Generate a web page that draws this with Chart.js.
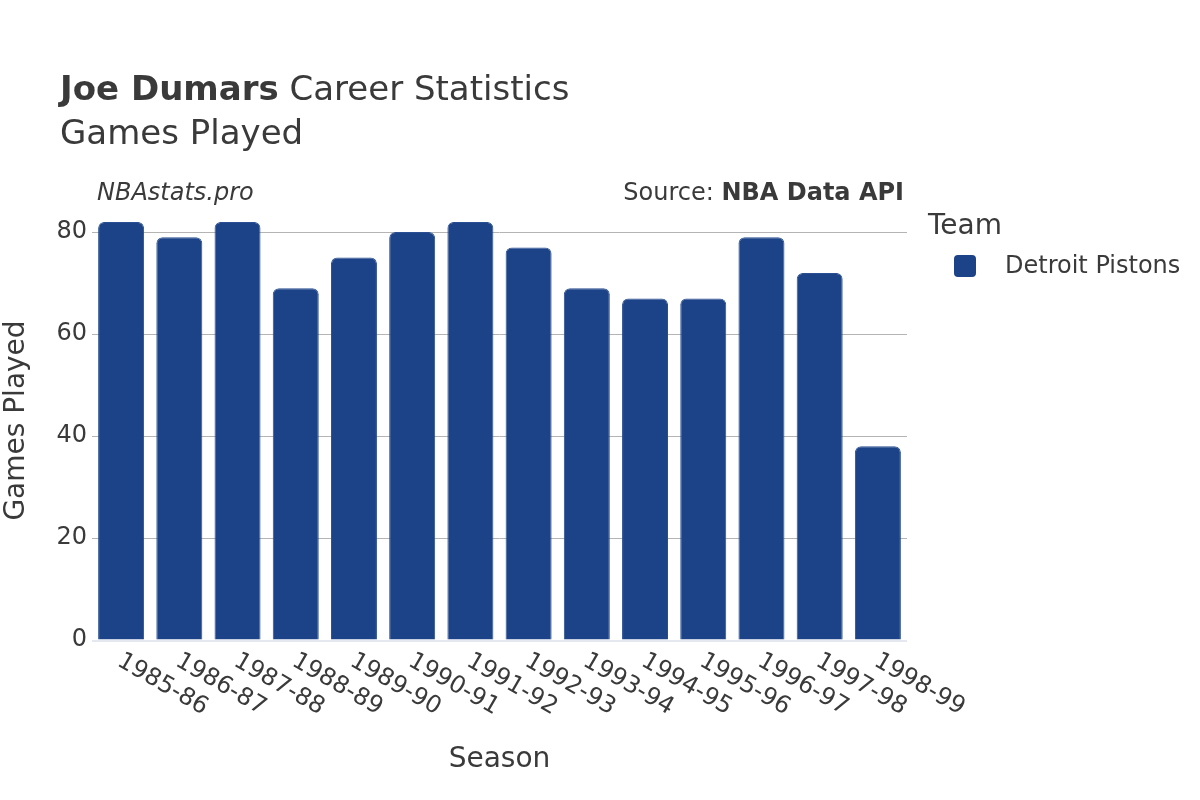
<!DOCTYPE html>
<html>
<head>
<meta charset="utf-8">
<script src="https://cdn.jsdelivr.net/npm/chart.js@4.4.0/dist/chart.umd.min.js"></script>
<style>
  html, body { margin: 0; padding: 0; background: #fff; }
  #wrap { width: 1200px; height: 800px; position: relative; }
</style>
</head>
<body>
<div id="wrap"><canvas id="chart" width="1200" height="800"></canvas></div>
<script>
const seasons = ['1985-86', '1986-87', '1987-88', '1988-89', '1989-90', '1990-91', '1991-92',
                 '1992-93', '1993-94', '1994-95', '1995-96', '1996-97', '1997-98', '1998-99'];
const gamesPlayed = [82, 79, 82, 69, 75, 80, 82, 77, 69, 67, 67, 79, 72, 38];
const yTicks = [0, 20, 40, 60, 80];
const teamName = 'Detroit Pistons';

const FONT = '"DejaVu Sans", sans-serif';
const TEXT = '#3a3a3a';
const BAR = '#1c4287';

// titles, source line, rotated season labels and legend
const decorations = {
    id: 'decorations',
    afterDraw(chart) {
        const ctx = chart.ctx;
        const area = chart.chartArea;
        const xs = chart.scales.x;
        ctx.save();
        ctx.fillStyle = TEXT;
        ctx.textBaseline = 'alphabetic';
        ctx.textAlign = 'left';

        ctx.font = 'bold 34px ' + FONT;
        ctx.fillText('Joe Dumars', 60, 100);
        const w = ctx.measureText('Joe Dumars').width;
        ctx.font = '34px ' + FONT;
        ctx.fillText(' Career Statistics', 60 + w, 100);
        ctx.fillText('Games Played', 60, 144);

        ctx.font = 'italic 24px ' + FONT;
        ctx.fillText('NBAstats.pro', 97, 200);

        ctx.textAlign = 'right';
        ctx.font = 'bold 24px ' + FONT;
        ctx.fillText('NBA Data API', 904, 200);
        const bw = ctx.measureText('NBA Data API').width;
        ctx.font = '24px ' + FONT;
        ctx.fillText('Source: ', 904 - bw, 200);

        // season labels
        ctx.textAlign = 'left';
        ctx.textBaseline = 'top';
        ctx.font = '24px ' + FONT;
        seasons.forEach((s, i) => {
            const x = xs.getPixelForTick(i);
            ctx.save();
            ctx.translate(x + 4, area.bottom + 9);
            ctx.rotate(Math.PI / 6);
            ctx.fillText(s, 0, 0);
            ctx.restore();
        });

        // axis titles
        ctx.textAlign = 'center';
        ctx.textBaseline = 'middle';
        ctx.font = '28px ' + FONT;
        ctx.fillText('Season', (area.left + area.right) / 2, 760);
        ctx.save();
        ctx.translate(17, (area.top + area.bottom) / 2);
        ctx.rotate(-Math.PI / 2);
        ctx.fillText('Games Played', 0, 0);
        ctx.restore();

        // legend
        ctx.textAlign = 'left';
        ctx.font = '28px ' + FONT;
        ctx.fillText('Team', 928, 227);
        ctx.fillStyle = BAR;
        ctx.beginPath();
        ctx.roundRect(954, 255, 22, 22, 4);
        ctx.fill();
        ctx.fillStyle = TEXT;
        ctx.font = '24px ' + FONT;
        ctx.fillText(teamName, 1005, 267);
        ctx.restore();
    }
};

// zero line drawn over the bars' base
const zeroLine = {
    id: 'zeroLine',
    afterDatasetsDraw(chart) {
        const ctx = chart.ctx;
        const area = chart.chartArea;
        const y = chart.scales.y.getPixelForValue(0);
        ctx.save();
        ctx.strokeStyle = '#e6e8f0';
        ctx.lineWidth = 2;
        ctx.beginPath();
        ctx.moveTo(area.left, y + 1);
        ctx.lineTo(area.right, y + 1);
        ctx.stroke();
        ctx.restore();
    }
};

new Chart(document.getElementById('chart'), {
    type: 'bar',
    data: {
        labels: seasons,
        datasets: [{
            label: teamName,
            data: gamesPlayed,
            backgroundColor: BAR,
            borderColor: '#2a4f92',
            borderWidth: 1,
            borderSkipped: 'bottom',
            borderRadius: { topLeft: 6, topRight: 6, bottomLeft: 0, bottomRight: 0 },
            barPercentage: 0.79,
            categoryPercentage: 1.0
        }]
    },
    options: {
        responsive: false,
        animation: false,
        events: [],
        layout: { padding: { left: 0, top: 201, right: 293, bottom: 0 } },
        plugins: { legend: { display: false }, tooltip: { enabled: false }, title: { display: false } },
        scales: {
            x: {
                grid: { display: false, drawTicks: false },
                border: { display: false },
                ticks: { display: false },
                afterFit(scale) { scale.height = 160; }
            },
            y: {
                min: 0,
                max: 86.1,
                afterBuildTicks(scale) { scale.ticks = yTicks.map(v => ({ value: v })); },
                grid: { color: '#b4b4b4', lineWidth: 1, drawTicks: false },
                border: { display: false },
                ticks: {
                    color: TEXT,
                    font: { family: FONT, size: 24 },
                    padding: 5
                },
                afterFit(scale) { scale.width = 92; }
            }
        }
    },
    plugins: [decorations, zeroLine]
});
</script>
</body>
</html>
